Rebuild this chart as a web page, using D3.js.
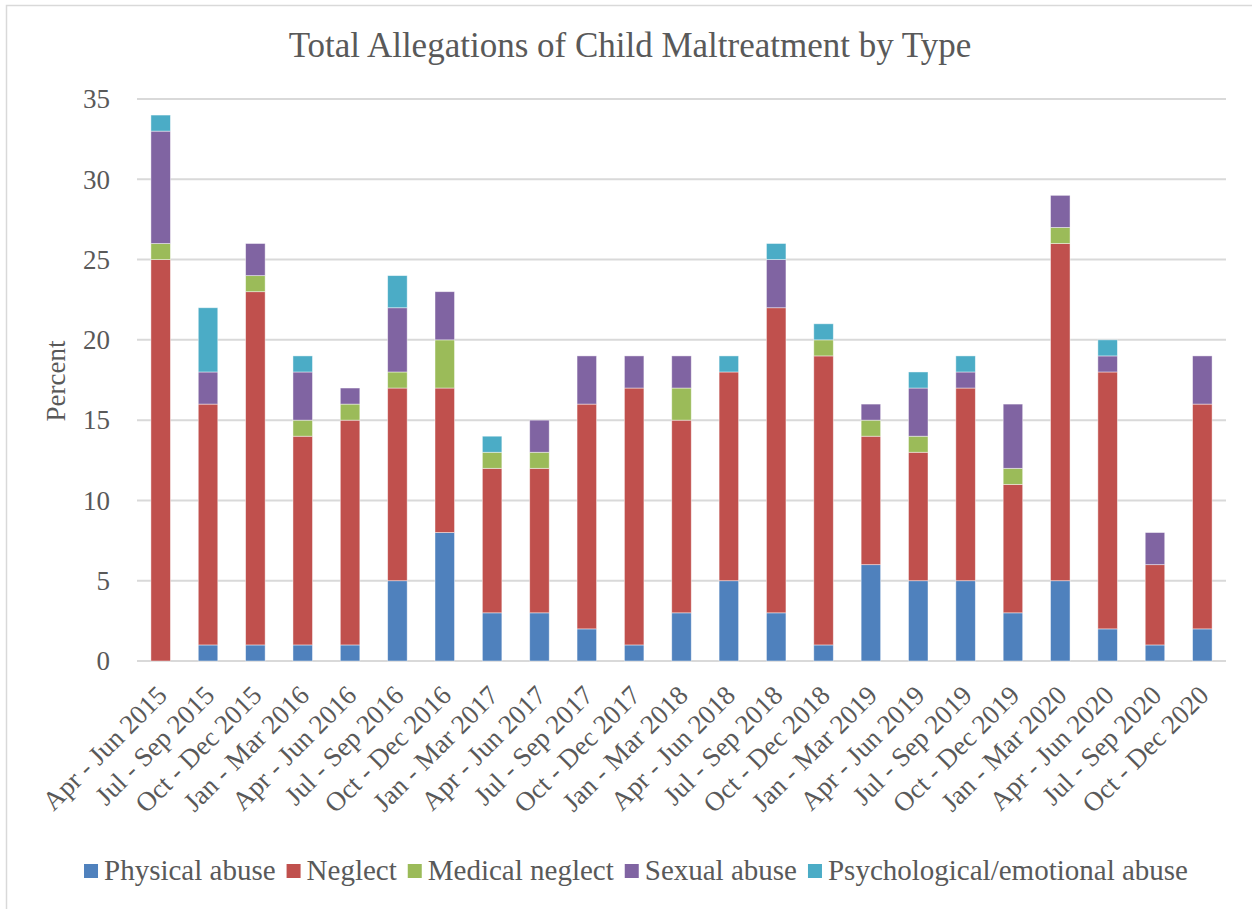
<!DOCTYPE html>
<html>
<head>
<meta charset="utf-8">
<script src="https://cdn.jsdelivr.net/npm/d3@7"></script>
<style>
  html, body { margin: 0; padding: 0; background: #fff; }
  svg { display: block; }
  text { font-family: "Liberation Serif", "Times New Roman", serif; fill: #595959; }
</style>
</head>
<body>
<svg id="chart" width="1252" height="909"></svg>
<script>
const categories = [
  "Apr - Jun 2015", "Jul - Sep 2015", "Oct - Dec 2015", "Jan - Mar 2016",
  "Apr - Jun 2016", "Jul - Sep 2016", "Oct - Dec 2016", "Jan - Mar 2017",
  "Apr - Jun 2017", "Jul - Sep 2017", "Oct - Dec 2017", "Jan - Mar 2018",
  "Apr - Jun 2018", "Jul - Sep 2018", "Oct - Dec 2018", "Jan - Mar 2019",
  "Apr - Jun 2019", "Jul - Sep 2019", "Oct - Dec 2019", "Jan - Mar 2020",
  "Apr - Jun 2020", "Jul - Sep 2020", "Oct - Dec 2020"
];
const seriesNames = ["Physical abuse", "Neglect", "Medical neglect", "Sexual abuse", "Psychological/emotional abuse"];
const physicalAbuse   = [0, 1, 1, 1, 1, 5, 8, 3, 3, 2, 1, 3, 5, 3, 1, 6, 5, 5, 3, 5, 2, 1, 2];
const neglect         = [25, 15, 22, 13, 14, 12, 9, 9, 9, 14, 16, 12, 13, 19, 18, 8, 8, 12, 8, 21, 16, 5, 14];
const medicalNeglect  = [1, 0, 1, 1, 1, 1, 3, 1, 1, 0, 0, 2, 0, 0, 1, 1, 1, 0, 1, 1, 0, 0, 0];
const sexualAbuse     = [7, 2, 2, 3, 1, 4, 3, 0, 2, 3, 2, 2, 0, 3, 0, 1, 3, 1, 4, 2, 1, 2, 3];
const psychAbuse      = [1, 4, 0, 1, 0, 2, 0, 1, 0, 0, 0, 0, 1, 1, 1, 0, 1, 1, 0, 0, 1, 0, 0];
const yTicks = [0, 5, 10, 15, 20, 25, 30, 35];
const colors = ["#4F81BD", "#C0504D", "#9BBB59", "#8064A2", "#4BACC6"];

const seriesValues = [physicalAbuse, neglect, medicalNeglect, sexualAbuse, psychAbuse];
const rows = categories.map((c, i) => {
  const r = { cat: c };
  seriesNames.forEach((s, j) => r[s] = seriesValues[j][i]);
  return r;
});

const svg = d3.select("#chart");
const plotL = 137, plotR = 1226, plotT = 99, plotB = 661;

// outer border
svg.append("rect").attr("x", 6.5).attr("y", 5.5).attr("width", 1270).attr("height", 930)
  .attr("fill", "#fff").attr("stroke", "#d9d9d9").attr("stroke-width", 1.5);

const x = d3.scaleBand().domain(categories).range([plotL, plotR]).paddingInner(0.588).paddingOuter(0.294);
const y = d3.scaleLinear().domain([0, 35]).range([plotB, plotT]);

// gridlines
svg.append("g").selectAll("line").data(yTicks).join("line")
  .attr("x1", plotL).attr("x2", plotR)
  .attr("y1", d => y(d)).attr("y2", d => y(d))
  .attr("stroke", "#d9d9d9").attr("stroke-width", 2);

// y tick labels
svg.append("g").selectAll("text").data(yTicks).join("text")
  .attr("x", 110).attr("y", d => y(d) + 9.3)
  .attr("text-anchor", "end").attr("font-size", 27)
  .text(d => d);

// stacked bars
const stack = d3.stack().keys(seriesNames)(rows);
svg.append("g").selectAll("g").data(stack).join("g")
  .attr("fill", (d, i) => colors[i])
  .selectAll("rect").data(d => d.filter(p => p[1] - p[0] > 0)).join("rect")
  .attr("x", d => x(d.data.cat))
  .attr("width", x.bandwidth())
  .attr("y", d => y(d[1]))
  .attr("height", d => y(d[0]) - y(d[1]))
  .attr("stroke", "rgba(255,255,255,0.55)").attr("stroke-width", 0.8);

// x labels
svg.append("g").selectAll("text").data(categories).join("text")
  .attr("transform", d => `translate(${x(d) + x.bandwidth() / 2 + 8},${plotB + 36}) rotate(-45)`)
  .attr("text-anchor", "end").attr("font-size", 27)
  .text(d => d);

// axis title
svg.append("text")
  .attr("transform", "translate(65,381) rotate(-90)")
  .attr("text-anchor", "middle").attr("font-size", 27)
  .text("Percent");

// chart title
svg.append("text")
  .attr("x", 630).attr("y", 57)
  .attr("text-anchor", "middle").attr("font-size", 35)
  .text("Total Allegations of Child Maltreatment by Type");

// legend
const lg = svg.append("g");
const items = lg.selectAll("g").data(seriesNames).join("g");
items.append("rect").attr("width", 14).attr("height", 14).attr("y", 864)
  .attr("fill", (d, i) => colors[i]);
items.append("text").attr("y", 880).attr("font-size", 29).text(d => d);
let cursor = 0;
const pos = [];
items.each(function(d) {
  const w = d3.select(this).select("text").node().getComputedTextLength();
  pos.push(cursor);
  cursor += 14 + 6 + w + 11;
});
const total = cursor - 11;
const startX = 636 - total / 2;
items.each(function(d, i) {
  const g = d3.select(this);
  g.select("rect").attr("x", startX + pos[i]);
  g.select("text").attr("x", startX + pos[i] + 20);
});
</script>
</body>
</html>
